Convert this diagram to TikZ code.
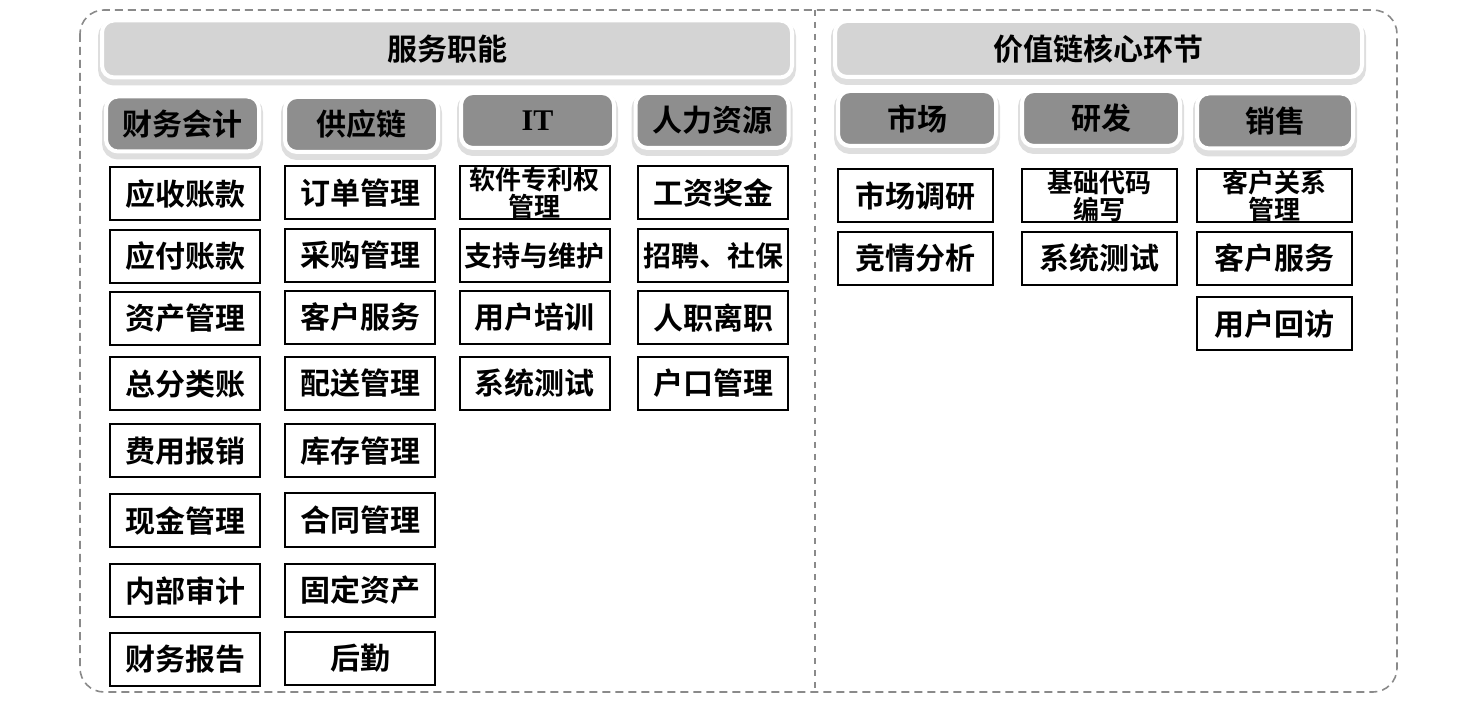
\documentclass[tikz,border=0pt]{standalone}
\usepackage{fontspec}
\setmainfont{Liberation Serif}
\newfontfamily\cjk{Noto Sans CJK SC}[BoldFont={Noto Sans CJK SC Bold}]
\definecolor{barlight}{HTML}{D4D4D4}
\definecolor{bardark}{HTML}{8E8E8E}
\definecolor{framegray}{HTML}{8A8A8A}

\begin{document}
\begin{tikzpicture}[x=0.5pt, y=-0.5pt,
    font=\cjk\bfseries\fontsize{15}{18}\selectfont,
    bar/.style={rounded corners=6pt, fill=#1, draw=white, line width=2pt, inner sep=0pt,
        preaction={draw=black!13, line width=4pt, transform canvas={yshift=-2pt}}},
    svchead/.style={bar=barlight},
    subhead/.style={bar=bardark, minimum width=76.5pt, minimum height=27.5pt},
    item/.style={draw=black, line width=1pt, fill=white, inner sep=0pt, minimum width=75pt, minimum height=26.5pt},
    coreitem/.style={item, minimum width=77.5pt},
    fiveword/.style={font=\cjk\bfseries\fontsize{14}{18}\selectfont},
    twoline/.style={align=center, font=\cjk\bfseries\fontsize{13}{12}\selectfont}]
    \useasboundingbox (0,0) rectangle (1475,704);

    % Outer frame and divider
    \draw[framegray, line width=0.8pt, dash pattern=on 4pt off 2.5pt, rounded corners=12pt] (80,10) rectangle (1397,692);
    \coordinate (divtop) at (815,10);
    \coordinate (divbot) at (815,692);
    \draw[framegray, line width=0.6pt, dash pattern=on 3pt off 3pt] (divtop) -- (divbot);

    % Top bars
    \node[svchead, minimum width=345pt, minimum height=28.5pt] (svc) at (447,49) {服务职能};
    \node[svchead, minimum width=263.5pt, minimum height=28pt] (core) at (1098.5,49) {价值链核心环节};

    % Service functions
    \node[subhead] (fin) at (182.5,124) {财务会计};
    \node[subhead] (sup) at (361.5,124.5) {供应链};
    \node[subhead] (it) at (537.5,120.5) {{\rmfamily\bfseries IT}};
    \node[subhead] (hr) at (712,120.5) {人力资源};

    % Core value chain
    \node[subhead, minimum width=79pt] (mkt) at (917,118.5) {市场};
    \node[subhead, minimum width=79pt] (rnd) at (1101,118.5) {研发};
    \node[subhead, minimum width=78pt] (sal) at (1275,121) {销售};

    % Finance column
    \node[item] (fin1) at (185,194) {应收账款};
    \node[item] (fin2) at (185,256.5) {应付账款};
    \node[item] (fin3) at (185,318.5) {资产管理};
    \node[item] (fin4) at (185,384) {总分类账};
    \node[item] (fin5) at (185,451) {费用报销};
    \node[item] (fin6) at (185,520.5) {现金管理};
    \node[item] (fin7) at (185,590.5) {内部审计};
    \node[item] (fin8) at (185,659) {财务报告};

    % Supply chain column
    \node[item] (sup1) at (360,193) {订单管理};
    \node[item] (sup2) at (360,255.5) {采购管理};
    \node[item] (sup3) at (360,317.5) {客户服务};
    \node[item] (sup4) at (360,383.5) {配送管理};
    \node[item] (sup5) at (360,451) {库存管理};
    \node[item] (sup6) at (360,520) {合同管理};
    \node[item] (sup7) at (360,590) {固定资产};
    \node[item] (sup8) at (360,658.5) {后勤};

    % IT column
    \node[item, twoline] (it1) at (534.5,193) {软件专利权\\管理};
    \node[item, fiveword] (it2) at (534.5,255.5) {支持与维护};
    \node[item] (it3) at (534.5,317.5) {用户培训};
    \node[item] (it4) at (534.5,383.5) {系统测试};

    % HR column
    \node[item] (hr1) at (713,193) {工资奖金};
    \node[item, fiveword] (hr2) at (713,255.5) {招聘、社保};
    \node[item] (hr3) at (713,317.5) {人职离职};
    \node[item] (hr4) at (713,383.5) {户口管理};

    % Marketing, R&D, sales
    \node[coreitem] (mkt1) at (915.5,196) {市场调研};
    \node[coreitem] (mkt2) at (915.5,258.5) {竞情分析};
    \node[coreitem, twoline] (rnd1) at (1099,196) {基础代码\\编写};
    \node[coreitem] (rnd2) at (1099,258.5) {系统测试};
    \node[coreitem, twoline] (sal1) at (1274.5,196) {客户关系\\管理};
    \node[coreitem] (sal2) at (1274.5,258.5) {客户服务};
    \node[coreitem] (sal3) at (1274.5,324) {用户回访};
\end{tikzpicture}
\end{document}
